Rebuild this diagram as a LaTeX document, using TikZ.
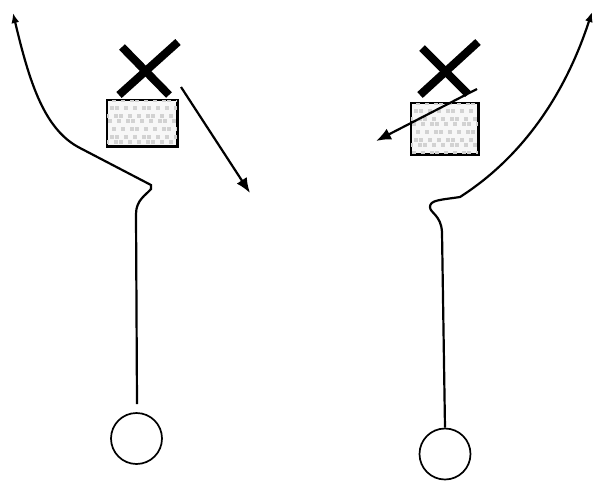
\documentclass[tikz,border=0pt]{standalone}
\usetikzlibrary{arrows.meta}

\tikzset{
	player/.style = {draw, circle, line width=1.7pt, minimum size=51pt, inner sep=0pt},
	block/.style = {draw, line width=1.5pt, fill=gray!6, inner sep=0pt},
	route/.style = {line width=2.2pt, -{Latex[length=10pt,width=8pt]}},
	move/.style = {line width=2.2pt, -{Latex[length=15pt,width=12pt]}},
	cross/.style = {line width=8pt},
}

% grey specks inside a block
\newcommand\speckle[1]{%
	\begin{scope}
	\clip (#1.south west) rectangle (#1.north east);
	\foreach \i in {0,...,9} {\foreach \j in {0,...,7} {
		\pgfmathsetmacro\dx{\i*8+mod(\j,2)*4+mod(\i*5+\j*3,4)-3}
		\pgfmathsetmacro\dy{\j*7+mod(\i*3+\j,3)-1}
		\fill[gray!35] ([shift={(\dx,\dy)}]#1.north west) rectangle ++(4,4);
	}}
	\end{scope}
	\draw[line width=1.5pt] (#1.south west) rectangle (#1.north east);
}

\begin{document}
\begin{tikzpicture}[x=1pt, y=-1pt]
\useasboundingbox (0,0) rectangle (595,480);

\node (lc) [player] at (136.5,438.5) {};
\node (rc) [player] at (445,454) {};

\node (lbox) [block, minimum width=70pt, minimum height=46pt] at (142,123) {};
\node (rbox) [block, minimum width=67pt, minimum height=51pt] at (444.5,128.5) {};
\speckle{lbox}
\speckle{rbox}

\draw[cross] (122,47) -- (169,95);
\draw[cross] (178,42) -- (119,95);
\draw[cross] (422,48) -- (468,94);
\draw[cross] (478,42) -- (420,95);

\coordinate (ls) at (137,404);
\coordinate (lt) at (13,13);
\coordinate (rt) at (592,12);

\draw[route] (ls) -- (136,214) .. controls (136,200) and (146,195) .. (151,189)
	-- (151,185) -- (80,148) .. controls (45,130) and (30,85) .. (lt);
\draw[route] (rc.north) -- (442,232) .. controls (441,215) and (430,213) .. (430,207)
	.. controls (430,200) and (440,200) .. (460,197) .. controls (510,165) and (560,110) .. (rt);

\coordinate (la) at (181,87);
\coordinate (lb) at (250,193);
\coordinate (ra) at (477,89);
\coordinate (rb) at (376,141);
\draw[move] (la) -- (lb);
\draw[move] (ra) -- (rb);
\end{tikzpicture}
\end{document}
